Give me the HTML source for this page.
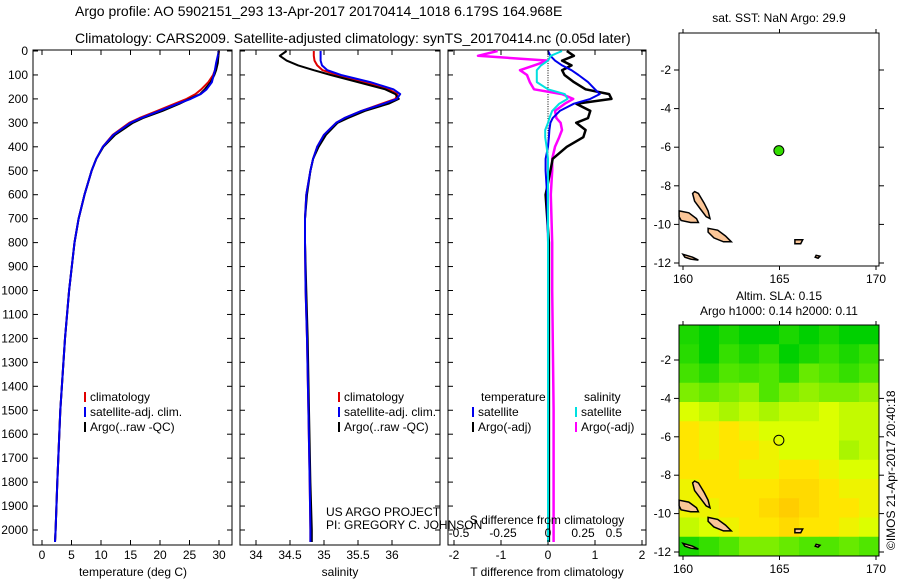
<!DOCTYPE html>
<html><head><meta charset="utf-8"><style>
html,body{margin:0;padding:0;background:#fff}
svg text{font-family:"Liberation Sans",sans-serif;fill:#000}
</style></head><body>
<svg id="fig" width="900" height="580" viewBox="0 0 900 580" xmlns="http://www.w3.org/2000/svg">
<text x="75" y="16" font-size="14">Argo profile: AO 5902151_293 13-Apr-2017 20170414_1018 6.179S 164.968E</text>
<text x="75" y="43" font-size="14">Climatology: CARS2009. Satellite-adjusted climatology: synTS_20170414.nc (0.05d later)</text>
<g id="root"></g>
</svg>
<script>
// ---------- data ----------
const depthTicks=[0,100,200,300,400,500,600,700,800,900,1000,1100,1200,1300,1400,1500,1600,1700,1800,1900,2000];
const tDepth=[0,20,50,80,100,130,160,180,200,220,250,280,300,350,400,450,500,600,700,800,1000,1200,1500,1800,2000,2050];
const tClim=[30,29.9,29.7,29.3,29,28.2,27,26,24.5,22.5,19.5,16.5,14.8,12,10.3,9.2,8.4,7.2,6.2,5.5,4.6,3.9,3.1,2.6,2.3,2.2];
const tSat=[30,29.8,29.5,29.3,29.1,28.8,27.9,26.9,25.2,23.0,19.9,16.8,15.0,12.1,10.3,9.2,8.4,7.2,6.2,5.5,4.6,3.9,3.1,2.6,2.3,2.2];
const tArgo=[29.9,29.9,29.8,29.5,29.2,28.6,27.6,26.8,25.0,23.3,20.4,17.1,15.4,12.4,10.4,9.2,8.4,7.2,6.2,5.5,4.6,3.9,3.1,2.6,2.3,2.2];
const sDepth=[0,20,40,60,80,100,130,160,180,200,220,250,280,300,350,400,450,500,600,700,800,1000,1200,1500,1800,2000,2050];
const sClim=[34.85,34.85,34.86,34.9,34.98,35.2,35.6,35.95,36.08,36.05,35.85,35.55,35.3,35.18,35.0,34.9,34.84,34.8,34.74,34.72,34.72,34.73,34.75,34.77,34.79,34.8,34.8];
const sSat=[34.95,34.95,34.95,34.97,35.05,35.25,35.68,36.02,36.12,36.07,35.88,35.55,35.3,35.18,35.0,34.9,34.84,34.8,34.74,34.72,34.72,34.73,34.75,34.77,34.79,34.8,34.8];
const sArgo=[34.45,34.35,34.45,34.62,34.85,35.1,35.5,35.9,36.05,36.1,35.95,35.6,35.35,35.2,35.03,34.92,34.84,34.8,34.75,34.72,34.72,34.74,34.76,34.78,34.8,34.82,34.82];
const dDepth=[0,20,40,60,80,100,130,160,180,200,220,250,280,300,330,360,400,450,500,600,800,1000,1500,2000,2050];
const dTsat=[0.0,0.05,0.15,0.3,0.5,0.65,0.85,1.0,1.1,0.9,0.55,0.25,0.1,0.05,0.03,0.02,0.0,-0.05,-0.05,-0.02,0,0,0,0,0];
const dTargo=[0.4,0.55,0.3,0.5,0.3,0.35,0.55,0.8,1.3,1.35,0.6,0.9,0.85,0.6,0.8,0.75,0.4,0.1,0.05,-0.05,0.02,0.02,0.02,0.02,0.02];
const dSsat=[0.1,0.02,0.0,-0.05,-0.08,-0.08,-0.08,0.0,0.12,0.14,0.08,0.03,0.01,0.0,-0.02,-0.02,-0.01,0,0,0,0,0,0,0,0];
const dSargo=[-0.36,-0.5,0.0,-0.1,-0.2,-0.15,-0.13,-0.1,0.1,0.18,0.12,0.05,0.06,0.09,0.1,0.08,0.05,0.03,0.03,0.02,0.03,0.03,0.04,0.04,0.04];
const floatLon=[164.968], floatLat=[-6.179];
const slaRows=[
[0.02,0.0,0.02,0.0,0.0,0.02,0.0,0.02,0.0,0.0],
[0.03,0.0,0.04,0.02,0.04,0.0,0.02,0.04,0.02,0.04],
[0.05,0.03,0.06,0.05,0.06,0.03,0.07,0.06,0.04,0.06],
[0.08,0.07,0.08,0.09,0.06,0.08,0.09,0.08,0.08,0.09],
[0.12,0.11,0.1,0.11,0.1,0.11,0.11,0.12,0.11,0.11],
[0.14,0.13,0.14,0.13,0.12,0.12,0.12,0.12,0.11,0.11],
[0.14,0.13,0.14,0.14,0.13,0.12,0.12,0.12,0.1,0.11],
[0.14,0.14,0.14,0.13,0.13,0.14,0.14,0.13,0.12,0.12],
[0.13,0.14,0.14,0.14,0.14,0.15,0.15,0.14,0.13,0.13],
[0.13,0.13,0.14,0.14,0.15,0.16,0.15,0.14,0.14,0.13],
[0.11,0.12,0.13,0.14,0.14,0.15,0.14,0.14,0.13,0.12],
[0.02,0.04,0.06,0.08,0.08,0.07,0.06,0.06,0.07,0.06]];
const islands=[
[[160.6,-8.3],[160.8,-8.4],[161.1,-8.9],[161.3,-9.3],[161.4,-9.7],[161.2,-9.6],[160.9,-9.2],[160.6,-8.8],[160.5,-8.4]],
[[159.8,-9.3],[160.3,-9.4],[160.7,-9.7],[160.8,-9.9],[160.4,-9.9],[159.9,-9.8],[159.8,-9.6]],
[[161.3,-10.2],[161.8,-10.3],[162.2,-10.6],[162.5,-10.9],[162.1,-10.9],[161.6,-10.7],[161.3,-10.4]],
[[160.0,-11.55],[160.5,-11.7],[160.8,-11.85],[160.4,-11.8],[160.1,-11.7]],
[[165.8,-10.8],[166.2,-10.8],[166.1,-11.0],[165.8,-11.0]],
[[166.9,-11.6],[167.1,-11.65],[167.0,-11.75],[166.85,-11.7]]];

// ---------- helpers ----------
const NS='http://www.w3.org/2000/svg';
const root=document.getElementById('root');
function el(tag,attrs,parent){const e=document.createElementNS(NS,tag);for(const k in attrs)e.setAttribute(k,attrs[k]);(parent||root).appendChild(e);return e;}
function txt(x,y,s,size,anchor,parent){const t=el('text',{x:x,y:y,'font-size':size||12,'text-anchor':anchor||'start'},parent);t.textContent=s;return t;}
const Y0=51,Y1=530;
const yD=d=>Y0+(d-0)*(Y1-Y0)/2000;
const PB=545,PT=50;

function panel(x0,x1,name){
  const r=el('rect',{x:x0,y:PT,width:x1-x0,height:PB-PT,fill:'none',stroke:'#000','stroke-width':1});
  
  
  for(const d of depthTicks){el('line',{x1:x0,x2:x0+5,y1:yD(d),y2:yD(d),stroke:'#000'});el('line',{x1:x1,x2:x1-5,y1:yD(d),y2:yD(d),stroke:'#000'});}
}
function line(xs,ds,fx,color,w,name){
  const pts=xs.map((v,i)=>fx(v).toFixed(1)+','+yD(ds[i]).toFixed(1)).join(' ');
  const p=el('polyline',{points:pts,fill:'none',stroke:color,'stroke-width':w||2,'stroke-linejoin':'round'});
  
  
}
function xticks(vals,fx,labels,y){vals.forEach((v,i)=>{const x=fx(v);el('line',{x1:x,x2:x,y1:PB,y2:PB-5,stroke:'#000'});el('line',{x1:x,x2:x,y1:PT,y2:PT+5,stroke:'#000'});const t=txt(x,y||559,labels[i],12,'middle');});}
function legendEntry(x,y,color,label){el('line',{x1:x,x2:x,y1:y-9,y2:y+1,stroke:color,'stroke-width':2});const t=txt(x+5,y,label,12);}

depthTicks.forEach(d=>{const t=txt(28,yD(d)+4,String(d),12,'end');});

// ---------- panel 1 ----------
const fT=v=>42+v*(219-42)/30;
panel(33,232,'temperature-panel');
line(tClim,tDepth,fT,'#e00000',2,'temp-climatology-line');
line(tArgo,tDepth,fT,'#000',2,'temp-argo-line');
line(tSat,tDepth,fT,'#0000ee',2,'temp-satellite-line');
xticks([0,5,10,15,20,25,30],fT,['0','5','10','15','20','25','30']);
let t=txt(133,576,'temperature (deg C)',12,'middle');
legendEntry(85,401,'#e00000','climatology');legendEntry(85,416,'#0000ee','satellite-adj. clim.');legendEntry(85,431,'#000','Argo(..raw -QC)');

// ---------- panel 2 ----------
const fS=v=>256+(v-34)*68;
panel(240,440,'salinity-panel');
line(sClim,sDepth,fS,'#e00000',2,'sal-climatology-line');
line(sArgo,sDepth,fS,'#000',2,'sal-argo-line');
line(sSat,sDepth,fS,'#0000ee',2,'sal-satellite-line');
xticks([34,34.5,35,35.5,36],fS,['34','34.5','35','35.5','36']);
t=txt(340,576,'salinity',12,'middle');
legendEntry(339,401,'#e00000','climatology');legendEntry(339,416,'#0000ee','satellite-adj. clim.');legendEntry(339,431,'#000','Argo(..raw -QC)');
t=txt(326,516,'US ARGO PROJECT',12);
t=txt(326,529,'PI: GREGORY C. JOHNSON',12);

// ---------- panel 3 ----------
const fDT=v=>548+v*47, fDS=v=>548+v*140;
panel(448,646,'difference-panel');
for(let d=0;d<=2050;d+=10){el('rect',{x:547.5,y:yD(d),width:1,height:1,fill:'#000'});}
line(dSargo,dDepth,fDS,'#ff00ff',2.5,'sal-diff-argo-line');
line(dTargo,dDepth,fDT,'#000',2.5,'temp-diff-argo-line');
line(dTsat,dDepth,fDT,'#0000ee',2,'temp-diff-satellite-line');
line(dSsat,dDepth,fDS,'#00e0e0',2,'sal-diff-satellite-line');
xticks([-2,-1,0,1,2],fDT,['-2','-1','0','1','2'],559);
[[-0.5,459],[-0.25,503],[0,548],[0.25,583],[0.5,614]].forEach(a=>{const q=txt(a[1],537,String(a[0]),12,'middle');});
t=txt(547,524,'S difference from climatology',12,'middle');
t=txt(547,576,'T difference from climatology',12,'middle');
t=txt(481,401,'temperature',12);
t=txt(584,401,'salinity',12);
legendEntry(473,416,'#0000ee','satellite');legendEntry(473,431,'#000','Argo(-adj)');
legendEntry(576,416,'#00e0e0','satellite');legendEntry(576,431,'#ff00ff','Argo(-adj)');

// ---------- maps ----------
function map(top,bottom,latM2,latM12,name,title,title2){
  const lx=l=>683+(l-160)*19.3;
  const ly=a=>latM2+(a+2)*(latM12-latM2)/(-10);
  const g=el('g',{});
  
  
  return {lx,ly,g,frame:()=>{
    el('rect',{x:679,y:top,width:200,height:bottom-top,fill:'none',stroke:'#000'},g);
    [-2,-4,-6,-8,-10,-12].forEach(a=>{const y=ly(a);el('line',{x1:679,x2:674,y1:y,y2:y,stroke:'#000'},g);el('line',{x1:879,x2:884,y1:y,y2:y,stroke:'#000'},g);const q=txt(671,y+4,String(a),12,'end',g);});
    [160,165,170].forEach(l=>{const x=lx(l);el('line',{x1:x,x2:x,y1:top,y2:top-4,stroke:'#000'},g);el('line',{x1:x,x2:x,y1:bottom,y2:bottom+4,stroke:'#000'},g);const q=txt(x,bottom+17,String(l),12,'middle',g);});
    if(title){const q=txt(779,top-11-(title2?14:0),title,12,'middle',g);}
    if(title2){const q=txt(779,top-10,title2,12,'middle',g);}
  },islands:()=>{islands.forEach(isl=>{const p=el('polygon',{points:isl.map(c=>lx(c[0]).toFixed(1)+','+ly(c[1]).toFixed(1)).join(' '),fill:'#fbc698',stroke:'#000','stroke-width':1.5},g);});}};
}
const m1=map(33,266,70,263,'sst-map','sat. SST: NaN Argo: 29.9');
m1.islands();
let c=el('circle',{cx:m1.lx(floatLon[0]),cy:m1.ly(floatLat[0]),r:5,fill:'#33dd00',stroke:'#000'},m1.g);

m1.frame();

const m2=map(325,556,360,552,'sla-map','Altim. SLA: 0.15','Argo h1000: 0.14 h2000: 0.11');
function slaColor(v){
  const stops=[[0,[0,208,0]],[0.06,[80,230,0]],[0.10,[170,245,0]],[0.12,[220,255,0]],[0.14,[255,230,0]],[0.16,[255,205,0]]];
  if(v<=stops[0][0])return 'rgb('+stops[0][1]+')';
  for(let i=1;i<stops.length;i++){if(v<=stops[i][0]){const a=stops[i-1],b=stops[i],f=(v-a[0])/(b[0]-a[0]);return 'rgb('+a[1].map((x,k)=>Math.round(x+(b[1][k]-x)*f)).join(',')+')';}}
  return 'rgb('+stops[stops.length-1][1]+')';
}
const cw=200/slaRows[0].length, ch=(556-325)/slaRows.length;
slaRows.forEach((row,i)=>row.forEach((v,j)=>{const r=el('rect',{x:679+j*cw,y:325+i*ch,width:cw+0.5,height:ch+0.5,fill:slaColor(v)},m2.g);}));
m2.islands();
c=el('circle',{cx:m2.lx(floatLon[0]),cy:m2.ly(floatLat[0]),r:5,fill:'none',stroke:'#000'},m2.g);

m2.frame();
t=txt(0,0,'©IMOS 21-Apr-2017 20:40:18',12,'start');
t.setAttribute('transform','translate(895,550) rotate(-90)');

</script>
</body></html>
